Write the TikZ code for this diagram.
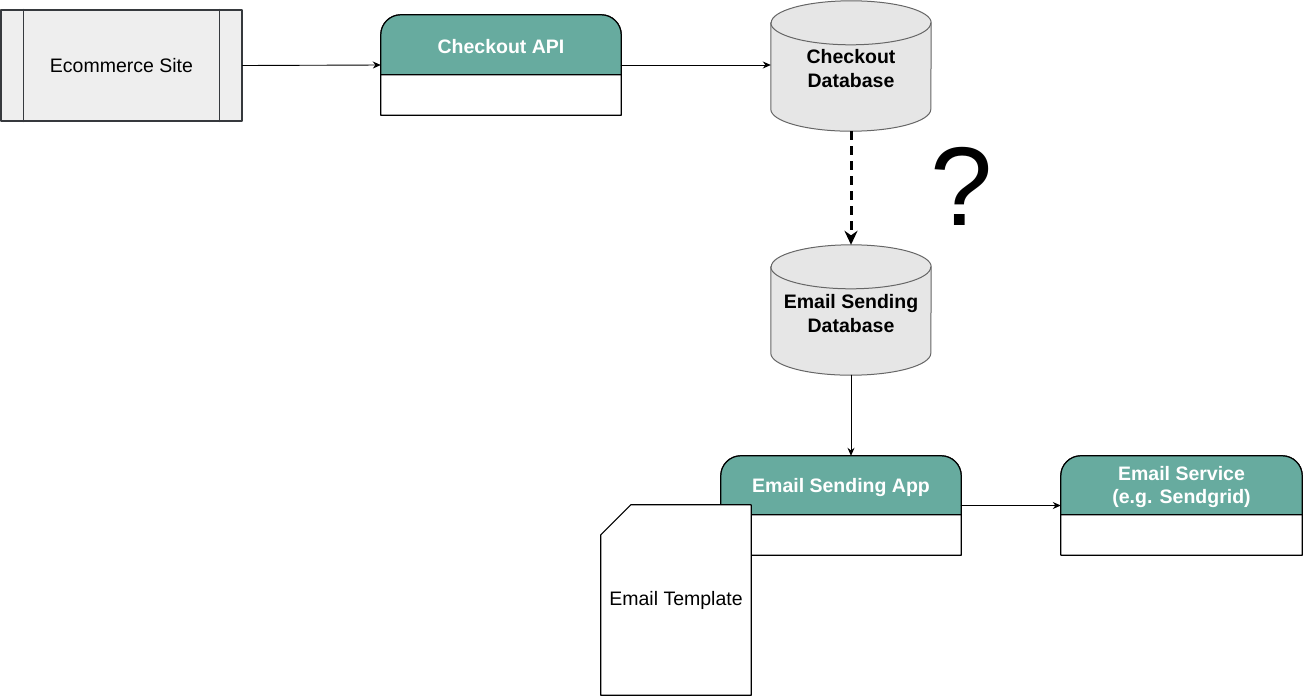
\documentclass[tikz,border=0pt]{standalone}
\usepackage{fontspec}
\setmainfont{Liberation Sans}
\usepackage{tikz}
\usetikzlibrary{arrows.meta}
\definecolor{hdrgreen}{HTML}{67AB9F}
\definecolor{dbfill}{HTML}{E6E6E6}
\definecolor{dbline}{HTML}{666666}
\definecolor{sitefill}{HTML}{EEEEEE}
\definecolor{siteline}{HTML}{36393D}

\tikzset{
    lane/.style={minimum width=240pt, minimum height=99pt, inner sep=0pt},
    lanetext/.style={text=white, font=\fontsize{19.5}{23.5}\selectfont\bfseries, align=center},
    dbbox/.style={minimum width=160pt, minimum height=130pt, inner sep=0pt, font=\fontsize{19.5}{24}\selectfont\bfseries, align=center},
    dbline/.style={draw=dbline, line width=1pt},
    link/.style={-{Stealth[length=8pt,width=7pt]}, line width=0.9pt},
}

\begin{document}
\begin{tikzpicture}[line cap=round,line join=round,x=1pt,y=-1pt,font=\fontsize{19.5}{23.5}\selectfont]
    \useasboundingbox (0,0) rectangle (1303,697);
    % ecommerce site
    \node[draw=siteline, fill=sitefill, line width=1.2pt, minimum width=241pt, minimum height=111pt, inner sep=0pt] (site) at (121.5,65.5) {Ecommerce Site};
    \draw[siteline, line width=1.2pt] ([xshift=23pt]site.north west) -- ([xshift=23pt]site.south west);
    \draw[siteline, line width=1.2pt] ([xshift=-23pt]site.north east) -- ([xshift=-23pt]site.south east);
    % checkout api
    \node[lane, minimum height=100pt] (api) at (501,65) {};
    \draw[fill=white, line width=1.2pt] (api.south west) [rounded corners=20pt]-- (api.north west) -- (api.north east) [sharp corners]-- (api.south east) -- cycle;
    \draw[fill=hdrgreen, line width=1.2pt] ([yshift=-60pt]api.north west) [rounded corners=20pt]-- (api.north west) -- (api.north east) [sharp corners]-- ([yshift=-60pt]api.north east) -- cycle;
    \node[lanetext] (apitext) at ([yshift=-32pt]api.north) {Checkout API};
    % checkout database
    \node[dbbox] (cdb) at (851,66) {};
    \draw[dbline, fill=dbfill] ([yshift=-22pt]cdb.north west) -- ([yshift=22pt]cdb.south west) arc[start angle=180, end angle=360, x radius=80pt, y radius=22pt] -- ([yshift=-22pt]cdb.north east) arc[start angle=0, end angle=180, x radius=80pt, y radius=22pt] -- cycle;
    \draw[dbline] ([yshift=-22pt]cdb.north west) arc[start angle=180, end angle=360, x radius=80pt, y radius=22pt];
    \node[dbbox, minimum height=0pt] (cdbtext) at ([yshift=-3pt]cdb.center) {Checkout\\Database};
    % email sending database
    \node[dbbox] (edb) at (851,310) {};
    \draw[dbline, fill=dbfill] ([yshift=-22pt]edb.north west) -- ([yshift=22pt]edb.south west) arc[start angle=180, end angle=360, x radius=80pt, y radius=22pt] -- ([yshift=-22pt]edb.north east) arc[start angle=0, end angle=180, x radius=80pt, y radius=22pt] -- cycle;
    \draw[dbline] ([yshift=-22pt]edb.north west) arc[start angle=180, end angle=360, x radius=80pt, y radius=22pt];
    \node[dbbox, minimum height=0pt] (edbtext) at ([yshift=-4pt]edb.center) {Email Sending\\Database};
    % email sending app
    \node[lane] (app) at (841,505.5) {};
    \draw[fill=white, line width=1.2pt] (app.south west) [rounded corners=20pt]-- (app.north west) -- (app.north east) [sharp corners]-- (app.south east) -- cycle;
    \draw[fill=hdrgreen, line width=1.2pt] ([yshift=-59pt]app.north west) [rounded corners=20pt]-- (app.north west) -- (app.north east) [sharp corners]-- ([yshift=-59pt]app.north east) -- cycle;
    \node[lanetext] (apptext) at ([yshift=-32pt]app.north) {Email Sending App};
    % email service
    \node[lane, minimum width=241pt] (svc) at (1181.5,505.5) {};
    \draw[fill=white, line width=1.2pt] (svc.south west) [rounded corners=20pt]-- (svc.north west) -- (svc.north east) [sharp corners]-- (svc.south east) -- cycle;
    \draw[fill=hdrgreen, line width=1.2pt] ([yshift=-59pt]svc.north west) [rounded corners=20pt]-- (svc.north west) -- (svc.north east) [sharp corners]-- ([yshift=-59pt]svc.north east) -- cycle;
    \node[lanetext] (svctext) at ([yshift=-31pt]svc.north) {Email Service\\(e.g. Sendgrid)};
    % email template
    \node[minimum width=150pt, minimum height=190pt, inner sep=0pt] (tpl) at (676,600) {};
    \draw[fill=white, line width=1.2pt] ([yshift=-30pt]tpl.north west) -- ([xshift=30pt]tpl.north west) -- (tpl.north east) -- (tpl.south east) -- (tpl.south west) -- cycle;
    \node (tpltext) at (tpl.center) {Email Template};
    % connectors
    \draw[link] (site.east) -- (api.west);
    \draw[link] (api.east) -- (cdb.west |- api.east);
    \draw[-{Stealth[length=14pt,width=13pt]}, line width=3pt, line cap=butt, dash pattern=on 9pt off 6pt] (cdb.south) -- (edb.north);
    \draw[link] (edb.south) -- (edb.south |- app.north);
    \draw[link] (app.east) -- (svc.west);
    \node[font=\fontsize{112}{112}\selectfont, inner sep=0pt] (ask) at (962,186) {?};
\end{tikzpicture}
\end{document}
